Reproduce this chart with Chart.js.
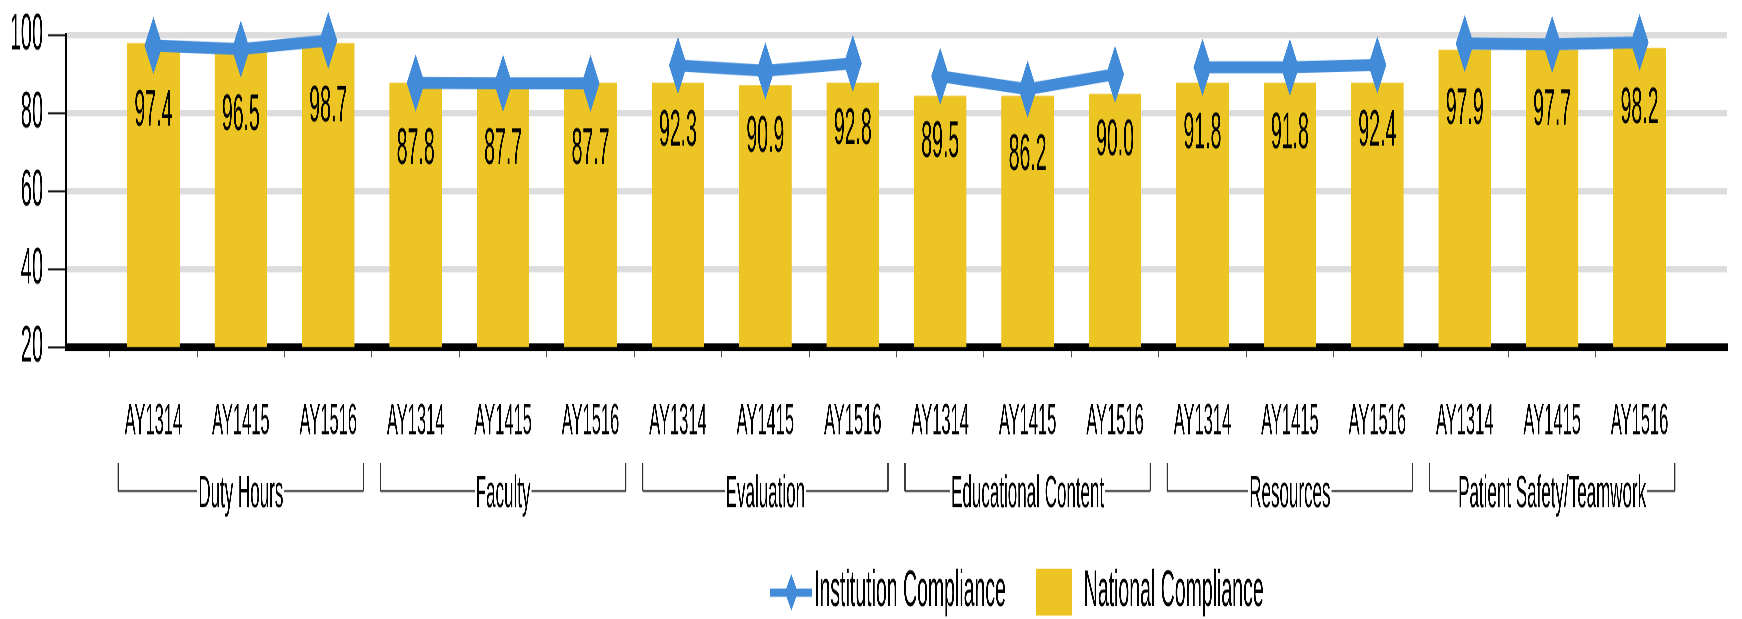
<!DOCTYPE html>
<html>
<head>
<meta charset="utf-8">
<script src="https://cdn.jsdelivr.net/npm/chart.js@4"></script>
<style>
  html, body { margin: 0; padding: 0; background: #fff; overflow: hidden; }
  /* the chart is drawn short and then stretched tall, like the original */
  #wrap { position: absolute; left: 0; top: 0; width: 1742px; height: 238px;
          transform: scaleY(2.6008); transform-origin: 0 0; }
</style>
</head>
<body>
<div id="wrap"><canvas id="myChart"></canvas></div>
<script>
const groups = ['Duty Hours', 'Faculty', 'Evaluation', 'Educational Content', 'Resources', 'Patient Safety/Teamwork'];
const years = ['AY1314', 'AY1415', 'AY1516'];
const institution = [97.4, 96.5, 98.7, 87.8, 87.7, 87.7, 92.3, 90.9, 92.8, 89.5, 86.2, 90.0, 91.8, 91.8, 92.4, 97.9, 97.7, 98.2];
const national = [98.0, 98.0, 98.0, 87.8, 87.8, 87.8, 87.8, 87.2, 87.8, 84.5, 84.5, 85.0, 87.8, 87.8, 87.8, 96.3, 96.3, 96.8];
const yTicks = [20, 40, 60, 80, 100];

const BLUE = '#428bd8';
const YELLOW = '#ecc423';
const FONT = '"Liberation Sans", Arial, sans-serif';

// small hi-res images used as point / legend markers
function makeMark(w, h, draw) {
    const k = 4;
    const c = document.createElement('canvas');
    c.width = w * k;
    c.height = h * k;
    const g = c.getContext('2d');
    g.scale(k, k);
    draw(g);
    const img = new Image(w, h);
    img.src = c.toDataURL();
    return img;
}

function diamond(g, cx, cy, w, h) {
    g.beginPath();
    g.moveTo(cx, cy - h / 2);
    g.lineTo(cx + w / 2, cy);
    g.lineTo(cx, cy + h / 2);
    g.lineTo(cx - w / 2, cy);
    g.closePath();
    g.fill();
}

const pointMark = makeMark(18, 22, g => {
    g.fillStyle = BLUE;
    diamond(g, 9, 11, 18, 22);
});

const lineMark = makeMark(84, 21, g => {
    g.fillStyle = BLUE;
    g.fillRect(42, 9, 42, 3.2);
    diamond(g, 63, 10.5, 13, 14);
});

const boxMark = makeMark(66, 18, g => {
    g.fillStyle = YELLOW;
    g.fillRect(29, 0, 36, 18);
});

const legendMarks = [lineMark, boxMark];

// institution values written under each diamond
const valueLabels = {
    id: 'valueLabels',
    afterDatasetsDraw(chart) {
        const ctx = chart.ctx;
        const meta = chart.getDatasetMeta(0);
        ctx.save();
        ctx.font = '19.5px ' + FONT;
        ctx.fillStyle = '#000';
        ctx.textAlign = 'center';
        ctx.textBaseline = 'alphabetic';
        meta.data.forEach((pt, i) => {
            ctx.fillText(institution[i].toFixed(1), pt.x, pt.y + 31);
        });
        ctx.restore();
    }
};

// second row of x labels with brackets
const groupBrackets = {
    id: 'groupBrackets',
    afterDraw(chart) {
        const ctx = chart.ctx;
        const xs = chart.scales.x;
        const yTop = xs.top + 44.6;
        const yLine = xs.top + 55.4;
        ctx.save();
        ctx.font = '17px ' + FONT;
        ctx.fillStyle = '#000';
        ctx.strokeStyle = '#333';
        ctx.textAlign = 'center';
        ctx.textBaseline = 'alphabetic';
        groups.forEach((name, k) => {
            const left = xs.getPixelForValue(k * years.length - 0.5) + 8.5;
            const right = xs.getPixelForValue(k * years.length + years.length - 0.5) - 8.5;
            const mid = (left + right) / 2;
            const tw = ctx.measureText(name).width;
            ctx.lineWidth = 1.3;
            ctx.beginPath();
            ctx.moveTo(left, yTop);
            ctx.lineTo(left, yLine);
            ctx.moveTo(right, yTop);
            ctx.lineTo(right, yLine);
            ctx.stroke();
            ctx.lineWidth = 0.75;
            ctx.beginPath();
            ctx.moveTo(left, yLine);
            ctx.lineTo(mid - tw / 2 - 1, yLine);
            ctx.moveTo(mid + tw / 2 + 1, yLine);
            ctx.lineTo(right, yLine);
            ctx.stroke();
            ctx.fillText(name, mid, yLine + 6.1);
        });
        ctx.restore();
    }
};

// the legend sits right of centre in the original
const legendShift = {
    id: 'legendShift',
    afterLayout(chart) {
        chart.legend.left += 124;
        chart.legend.right += 124;
    }
};

function build() {
    const ctx = document.getElementById('myChart');
    const n = institution.length;

    new Chart(ctx, {
        type: 'bar',
        data: {
            datasets: [{
                type: 'line',
                label: 'Institution Compliance',
                data: institution.map((y, i) => ({ x: i, y })),
                borderColor: BLUE,
                backgroundColor: BLUE,
                borderWidth: 4.6,
                pointStyle: pointMark,
                pointRadius: 9,
                clip: false,
                // no line joining one group to the next
                segment: {
                    borderColor: c => (c.p0DataIndex % years.length === years.length - 1) ? 'rgba(0,0,0,0)' : undefined
                }
            }, {
                type: 'bar',
                label: 'National Compliance',
                data: national.map((y, i) => ({ x: i, y })),
                backgroundColor: YELLOW,
                barPercentage: 0.6,
                categoryPercentage: 1
            }]
        },
        options: {
            responsive: true,
            maintainAspectRatio: false,
            devicePixelRatio: 3,
            animation: false,
            layout: { padding: { left: 12, right: 2, top: 12.69, bottom: 0 } },
            plugins: {
                tooltip: { enabled: false },
                legend: {
                    position: 'bottom',
                    maxHeight: 20,
                    labels: {
                        usePointStyle: true,
                        pointStyleWidth: 68,
                        padding: 0,
                        color: '#000',
                        font: { family: FONT, size: 19.5 },
                        generateLabels(chart) {
                            return Chart.defaults.plugins.legend.labels.generateLabels(chart)
                                .map((item, i) => Object.assign(item, { pointStyle: legendMarks[i] }));
                        }
                    }
                }
            },
            scales: {
                x: {
                    type: 'linear',
                    min: -1,
                    max: n,
                    offset: false,
                    afterFit: s => { s.height = 84.58; },
                    grid: {
                        drawOnChartArea: false,
                        tickLength: 4,
                        tickWidth: 1,
                        tickColor: c => (c.tick && c.tick.value >= 0 && c.tick.value < n) ? '#555' : 'rgba(0,0,0,0)'
                    },
                    border: { color: '#000', width: 3 },
                    ticks: {
                        stepSize: 1,
                        autoSkip: false,
                        maxRotation: 0,
                        padding: 15,
                        color: '#000',
                        font: { family: FONT, size: 16.5 },
                        callback: v => (v >= 0 && v < n) ? years[v % years.length] : ''
                    }
                },
                y: {
                    min: 20,
                    max: 100,
                    afterFit: s => { s.width = 54; s.paddingTop = 0; s.paddingBottom = 0; },
                    afterBuildTicks: s => { s.ticks = yTicks.map(v => ({ value: v })); },
                    grid: {
                        color: '#dcdcdc',
                        lineWidth: 2.4,
                        tickLength: 18,
                        tickColor: '#000',
                        tickWidth: 0.8
                    },
                    border: { color: '#000', width: 2 },
                    ticks: {
                        padding: 5,
                        color: '#000',
                        font: { family: FONT, size: 20 }
                    }
                }
            }
        },
        plugins: [valueLabels, groupBrackets, legendShift]
    });
}

Promise.all([pointMark, lineMark, boxMark].map(img => img.decode())).then(build);
</script>
</body>
</html>
